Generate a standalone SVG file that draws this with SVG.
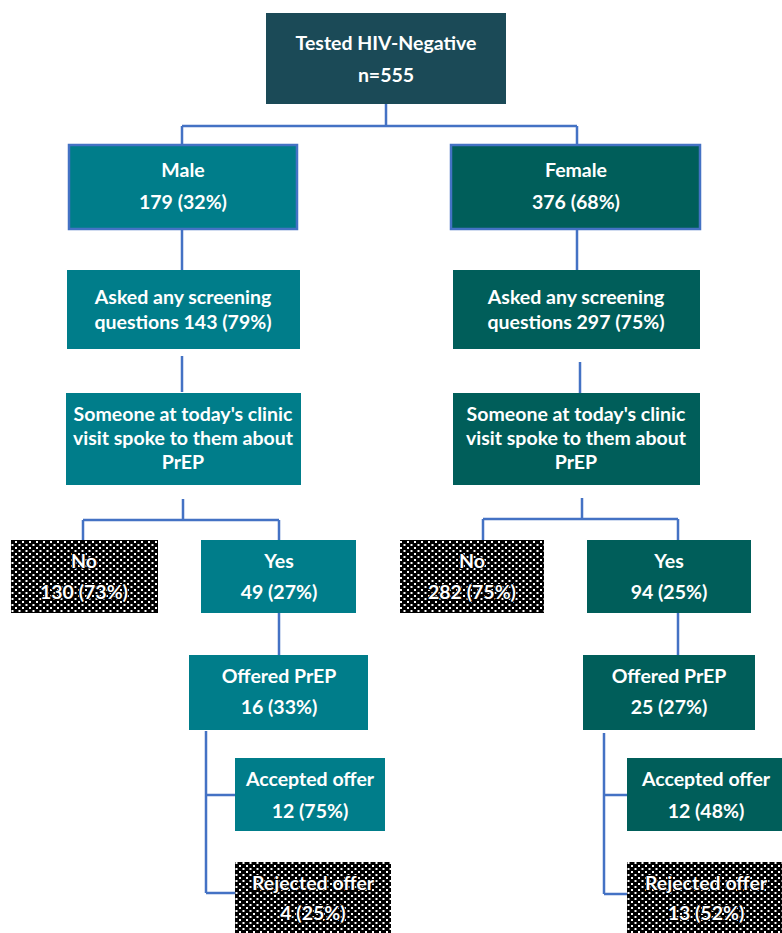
<svg xmlns="http://www.w3.org/2000/svg" width="782" height="933" viewBox="0 0 782 933">
<defs>
<pattern id="dots" width="7" height="6" patternUnits="userSpaceOnUse">
<rect width="7" height="6" fill="#000"/>
<rect x="1" y="1" width="2" height="2" fill="#fff"/>
<rect x="4.5" y="4" width="2" height="2" fill="#fff"/>
</pattern>
</defs>
<style>
text{font-family:Lato,"Liberation Sans",sans-serif;font-weight:bold;font-size:19.5px;fill:#fff;text-anchor:middle}
.top{fill:#1b4a57}
.m{fill:#007d8a}
.f{fill:#005e5a}
.bd{stroke:#4472c4;stroke-width:2.5}
.dot{fill:url(#dots)}
.dt{stroke:#000;stroke-width:2;paint-order:stroke}
#connectors path{fill:none;stroke:#4472c4;stroke-width:2.5}
</style>
<g id="connectors">
<path d="M386 104V126M182 126H577M182 126V145M577 126V145"/>
<path d="M182 229V270M577 229V270"/>
<path d="M182 356V392M580 362V393"/>
<path d="M183 499V520M83 520H279M83 520V540M279 520V540"/>
<path d="M582 498V519M483 519H678M483 519V540M678 519V540"/>
<path d="M279 613V655M678 613V655"/>
<path d="M206 731V893M206 795H235M206 893H235"/>
<path d="M604 733V894M604 795H627M604 894H627"/>
</g>
<g id="n-top"><rect class="top" x="266" y="13" width="240" height="91"/><text x="386" y="50">Tested HIV-Negative</text><text x="386" y="82">n=555</text></g>
<g id="n-male"><rect class="m bd" x="69" y="145" width="228" height="84"/><text x="183" y="177">Male</text><text x="183" y="209">179 (32%)</text></g>
<g id="n-female"><rect class="f bd" x="451" y="145" width="249" height="84"/><text x="576" y="177">Female</text><text x="576" y="209">376 (68%)</text></g>
<g id="n-m-asked"><rect class="m" x="67" y="270" width="233" height="79"/><text x="183" y="304">Asked any screening</text><text x="183" y="329">questions 143 (79%)</text></g>
<g id="n-f-asked"><rect class="f" x="453" y="270" width="247" height="79"/><text x="576" y="304">Asked any screening</text><text x="576" y="329">questions 297 (75%)</text></g>
<g id="n-m-spoke"><rect class="m" x="66" y="393" width="235" height="92"/><text x="183" y="421">Someone at today's clinic</text><text x="183" y="445">visit spoke to them about</text><text x="183" y="469">PrEP</text></g>
<g id="n-f-spoke"><rect class="f" x="453" y="393" width="247" height="92"/><text x="576" y="421">Someone at today's clinic</text><text x="576" y="445">visit spoke to them about</text><text x="576" y="469">PrEP</text></g>
<g id="n-m-no"><rect class="dot" x="11" y="540" width="147" height="73"/><text class="dt" x="84" y="568">No</text><text class="dt" x="84" y="599">130 (73%)</text></g>
<g id="n-m-yes"><rect class="m" x="201" y="540" width="155" height="73"/><text x="279" y="568">Yes</text><text x="279" y="599">49 (27%)</text></g>
<g id="n-f-no"><rect class="dot" x="400" y="540" width="144" height="73"/><text class="dt" x="472" y="568">No</text><text class="dt" x="472" y="599">282 (75%)</text></g>
<g id="n-f-yes"><rect class="f" x="587" y="540" width="164" height="73"/><text x="669" y="568">Yes</text><text x="669" y="599">94 (25%)</text></g>
<g id="n-m-offered"><rect class="m" x="189" y="655" width="179" height="75"/><text x="279" y="683">Offered PrEP</text><text x="279" y="714">16 (33%)</text></g>
<g id="n-f-offered"><rect class="f" x="583" y="655" width="172" height="75"/><text x="669" y="683">Offered PrEP</text><text x="669" y="714">25 (27%)</text></g>
<g id="n-m-accepted"><rect class="m" x="235" y="758" width="150" height="73"/><text x="310" y="786">Accepted offer</text><text x="310" y="818">12 (75%)</text></g>
<g id="n-f-accepted"><rect class="f" x="627" y="758" width="155" height="73"/><text x="706" y="786">Accepted offer</text><text x="706" y="818">12 (48%)</text></g>
<g id="n-m-rejected"><rect class="dot" x="235" y="862" width="156" height="71"/><text class="dt" x="313" y="890">Rejected offer</text><text class="dt" x="313" y="920">4 (25%)</text></g>
<g id="n-f-rejected"><rect class="dot" x="627" y="862" width="155" height="71"/><text class="dt" x="706" y="890">Rejected offer</text><text class="dt" x="706" y="920">13 (52%)</text></g>
</svg>
